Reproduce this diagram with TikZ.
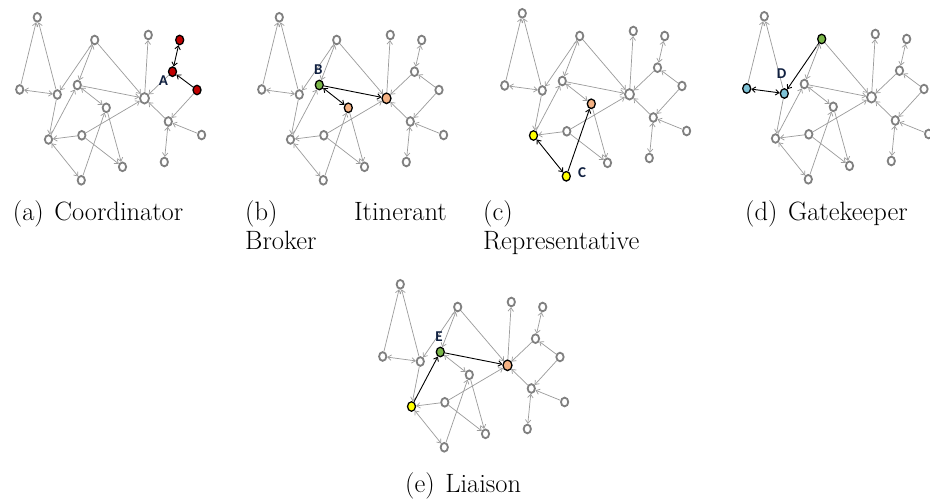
\documentclass[tikz,border=0pt]{standalone}
\usepackage{fontspec}
\newfontfamily\lblfont{Carlito}
\usetikzlibrary{arrows.meta,shapes.geometric}

\definecolor{edgegray}{RGB}{155,155,155}
\definecolor{nodegray}{RGB}{128,128,128}
\definecolor{hred}{RGB}{192,0,0}
\definecolor{hgreen}{RGB}{122,182,72}
\definecolor{horange}{RGB}{244,177,131}
\definecolor{hyellow}{RGB}{255,255,0}
\definecolor{hblue}{RGB}{126,194,214}
\definecolor{lblnavy}{RGB}{16,32,64}

\tikzset{
  plainnode/.style={ellipse, draw=nodegray, line width=1.8pt, fill=white,
    minimum width=7.3pt, minimum height=8.7pt, inner sep=0pt},
  hinode/.style={ellipse, draw=black, line width=1.3pt, fill=#1,
    minimum width=8pt, minimum height=9.5pt, inner sep=0pt},
  netedge/.style={draw=edgegray, line width=0.7pt,
    >={Straight Barb[length=3.5pt,width=5.5pt]}},
  hiedge/.style={draw=black, line width=0.9pt},
  lbl/.style={font=\lblfont\bfseries\fontsize{15}{15}\selectfont,
    text=lblnavy, inner sep=0pt},
  captext/.style={font=\fontsize{26.5}{31}\selectfont, inner sep=0pt},
  s1/.style=plainnode, s2/.style=plainnode, s3/.style=plainnode, s4/.style=plainnode,
  s5/.style=plainnode, s6/.style=plainnode, s7/.style=plainnode, s8/.style=plainnode,
  s9/.style=plainnode, s10/.style=plainnode, s11/.style=plainnode, s12/.style=plainnode,
  s13/.style=plainnode, s14/.style=plainnode, s15/.style=plainnode, s16/.style=plainnode,
  s17/.style=plainnode, s18/.style=plainnode,
  e1/.style={}, e2/.style={}, e3/.style={}, e4/.style={}, e5/.style={},
  e6/.style={}, e7/.style={}, e8/.style={}, e9/.style={}, e10/.style={},
  e11/.style={}, e12/.style={}, e13/.style={}, e14/.style={}, e15/.style={},
  e16/.style={}, e17/.style={}, e18/.style={}, e19/.style={}, e20/.style={},
  e21/.style={}, e22/.style={}, e23/.style={}, e24/.style={},
}

% One copy of the network; #1 prefixes the node names.
\newcommand\network[1]{%
  \node[s1] (#1-1) at (279.3,17.3) {};
  \node[s2] (#1-2) at (336.7,40) {};
  \node[s3] (#1-3) at (390.3,35) {};
  \node[s4] (#1-4) at (421.7,40) {};
  \node[s5] (#1-5) at (414.5,71.7) {};
  \node[s6] (#1-6) at (439,90) {};
  \node[s7, minimum width=9pt, minimum height=10.5pt] (#1-7) at (386.5,98.3) {};
  \node[s8] (#1-8) at (261.7,89.5) {};
  \node[s9] (#1-9) at (299.3,94.5) {};
  \node[s10] (#1-10) at (319.3,85) {};
  \node[s11] (#1-11) at (348.3,107.8) {};
  \node[s12] (#1-12) at (410.3,121.5) {};
  \node[s13] (#1-13) at (443.6,135) {};
  \node[s14] (#1-14) at (290.5,139.5) {};
  \node[s15] (#1-15) at (323.8,135.3) {};
  \node[s16] (#1-16) at (364.5,166.8) {};
  \node[s17] (#1-17) at (406.3,162) {};
  \node[s18] (#1-18) at (323.3,180.3) {};
  \draw[netedge,->,e1] (#1-8) -- (#1-1);
  \draw[netedge,->,e2] (#1-9) -- (#1-1);
  \draw[netedge,<->,e3] (#1-8) -- (#1-9);
  \draw[netedge,->,e4] (#1-2) -- (#1-9);
  \draw[netedge,<->,e5] (#1-2) -- (#1-10);
  \draw[netedge,->,e6] (#1-2) -- (#1-7);
  \draw[netedge,->,e7] (#1-7) -- (#1-3);
  \draw[netedge,<->,e8] (#1-4) -- (#1-5);
  \draw[netedge,->,e9] (#1-6) -- (#1-5);
  \draw[netedge,->,e10] (#1-5) -- (#1-7);
  \draw[netedge,->,e11] (#1-6) -- (#1-12);
  \draw[netedge,->,e12] (#1-12) -- (#1-7);
  \draw[netedge,->,e13] (#1-13) -- (#1-12);
  \draw[netedge,<->,e14] (#1-12) -- (#1-17);
  \draw[netedge,->,e15] (#1-10) -- (#1-7);
  \draw[netedge,<->,e16] (#1-10) -- (#1-11);
  \draw[netedge,->,e17] (#1-9) -- (#1-14);
  \draw[netedge,->,e18] (#1-14) -- (#1-10);
  \draw[netedge,->,e19] (#1-15) -- (#1-14);
  \draw[netedge,->,e20] (#1-15) -- (#1-7);
  \draw[netedge,->,e21] (#1-15) -- (#1-16);
  \draw[netedge,->,e22] (#1-11) -- (#1-16);
  \draw[netedge,->,e23] (#1-18) -- (#1-11);
  \draw[netedge,<->,e24] (#1-14) -- (#1-18);
}

\begin{document}
\begin{tikzpicture}[x=1pt, y=-1pt]
  \fill[white] (0,0) rectangle (930,502);
  \useasboundingbox (0,0) rectangle (930,502);

  % (a) Coordinator
  \begin{scope}[shift={(-242,0)},
      s4/.style={hinode=hred}, s5/.style={hinode=hred}, s6/.style={hinode=hred},
      e8/.style=hiedge, e9/.style=hiedge]
    \network{a}
    \node[lbl] (la) at (405.3,80.3) {A};
  \end{scope}

  % (b) Itinerant Broker
  \begin{scope}[s10/.style={hinode=hgreen}, s11/.style={hinode=horange},
      s7/.style={hinode=horange}, e15/.style=hiedge, e16/.style=hiedge]
    \network{b}
    \node[lbl] (lb) at (318.3,69.3) {B};
  \end{scope}

  % (c) Representative
  \begin{scope}[shift={(243,-4)},
      s14/.style={hinode=hyellow}, s18/.style={hinode=hyellow},
      s11/.style={hinode=horange}, e23/.style=hiedge, e24/.style=hiedge]
    \network{c}
    \node[lbl] (lc) at (339,176.7) {C};
  \end{scope}

  % (d) Gatekeeper
  \begin{scope}[shift={(485,-1)},
      s2/.style={hinode=hgreen}, s9/.style={hinode=hblue},
      s8/.style={hinode=hblue}, e3/.style=hiedge, e4/.style=hiedge]
    \network{d}
    \node[lbl] (ld) at (296.7,74.7) {D};
  \end{scope}

  % (e) Liaison
  \begin{scope}[shift={(121,267)},
      s14/.style={hinode=hyellow}, s10/.style={hinode=hgreen},
      s7/.style={hinode=horange}, e15/.style=hiedge, e18/.style=hiedge]
    \network{e}
    \node[lbl] (le) at (318,69.7) {E};
  \end{scope}

  % captions
  \node[captext, anchor=base west] (ca) at (12.7,221) {(a)\hspace{0.4em}Coordinator};
  \node[captext, anchor=base west] (cb1) at (245,221) {(b)};
  \node[captext, anchor=base east] (cb2) at (447,221) {Itinerant};
  \node[captext, anchor=base west] (cb3) at (245,250) {Broker};
  \node[captext, anchor=base west] (cc1) at (483,221) {(c)};
  \node[captext, anchor=base west] (cc2) at (483,250) {Representative};
  \node[captext, anchor=base west] (cd) at (745,221) {(d)\hspace{0.4em}Gatekeeper};
  \node[captext, anchor=base west] (ce) at (405,493) {(e)\hspace{0.4em}Liaison};
\end{tikzpicture}
\end{document}
